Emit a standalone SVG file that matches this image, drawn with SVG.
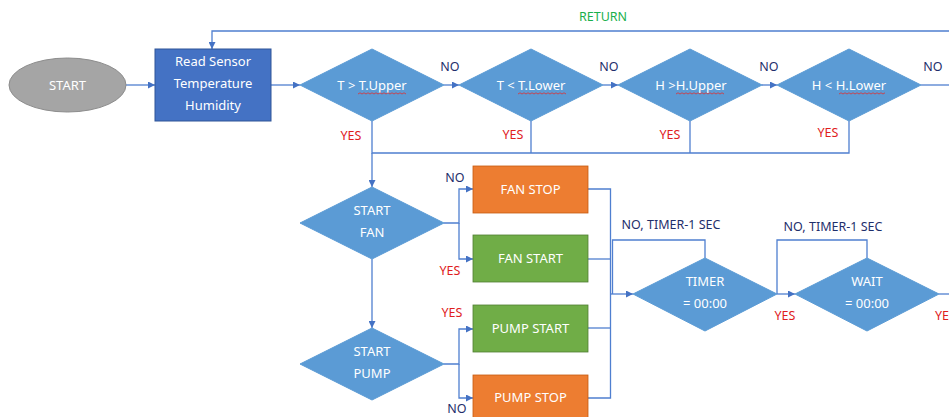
<svg xmlns="http://www.w3.org/2000/svg" width="949" height="417" viewBox="0 0 949 417">
<style>
text{font-family:"Noto Sans","Open Sans","Liberation Sans",sans-serif;font-size:13px;text-anchor:middle}
.w{fill:#ffffff}
.no{fill:#1f2f6b;font-size:12.5px}
.yes{fill:#e0201c;font-size:12.5px}
.ret{fill:#1ab04c;font-size:12.5px}
.dia{fill:#5b9bd5;stroke:#5b9bd5;stroke-width:1}
.ln{fill:none;stroke:#4f7fd0;stroke-width:1.3}
.sq{fill:none;stroke:#e03030;stroke-width:0.8}
.or{fill:#ed7d31;stroke:#c55a11;stroke-width:0.8}
.gr{fill:#70ad47;stroke:#507e32;stroke-width:0.8}
</style>
<defs>
<marker id="ah" viewBox="0 0 10 10" refX="10" refY="5" markerWidth="7" markerHeight="7" markerUnits="userSpaceOnUse" orient="auto">
<path d="M0,0 L10,5 L0,10 z" fill="#4472c4"/>
</marker>
</defs>

<g id="connectors">
<path class="ln" d="M126,85 H155" marker-end="url(#ah)"/>
<path class="ln" d="M271,85 H300" marker-end="url(#ah)"/>
<path class="ln" d="M444,85 H459" marker-end="url(#ah)"/>
<path class="ln" d="M603,85 H618" marker-end="url(#ah)"/>
<path class="ln" d="M762,85 H777" marker-end="url(#ah)"/>
<path class="ln" d="M921,85 H949"/>
<path class="ln" d="M949,31 H212 V49" marker-end="url(#ah)"/>
<path class="ln" d="M372,121 V153 H849 V121"/>
<path class="ln" d="M531,121 V153"/>
<path class="ln" d="M690,121 V153"/>
<path class="ln" d="M372,153 V187" marker-end="url(#ah)"/>
<path class="ln" d="M372,259 V328" marker-end="url(#ah)"/>
<path class="ln" d="M444,223 H459 V189 H473" marker-end="url(#ah)"/>
<path class="ln" d="M459,223 V259 H473" marker-end="url(#ah)"/>
<path class="ln" d="M444,364 H459 V329 H473" marker-end="url(#ah)"/>
<path class="ln" d="M459,364 V398 H473" marker-end="url(#ah)"/>
<path class="ln" d="M588,189 H610.5 V398 H588"/>
<path class="ln" d="M588,259 H610.5"/>
<path class="ln" d="M588,328 H610.5"/>
<path class="ln" d="M610.5,294 H633" marker-end="url(#ah)"/>
<path class="ln" d="M705,258 V240 H612.5 V294"/>
<path class="ln" d="M777,294 H795" marker-end="url(#ah)"/>
<path class="ln" d="M867,258 V240 H777 V294"/>
<path class="ln" d="M939,294 H949"/>
</g>

<g id="labels">
<text class="ret" x="603" y="21">RETURN</text>
<text class="no" x="450" y="71">NO</text>
<text class="no" x="609" y="71">NO</text>
<text class="no" x="769" y="71">NO</text>
<text class="no" x="933" y="71">NO</text>
<text class="yes" x="351" y="140">YES</text>
<text class="yes" x="513" y="139">YES</text>
<text class="yes" x="670" y="139">YES</text>
<text class="yes" x="828" y="137">YES</text>
<text class="no" x="455" y="182">NO</text>
<text class="yes" x="450" y="275">YES</text>
<text class="yes" x="452" y="317">YES</text>
<text class="no" x="457" y="413">NO</text>
<text class="no" x="671" y="229">NO, TIMER-1 SEC</text>
<text class="no" x="833" y="231">NO, TIMER-1 SEC</text>
<text class="yes" x="785" y="320">YES</text>
<text class="yes" x="935" y="320" style="text-anchor:start">YES</text>
</g>

<g id="start">
<ellipse cx="67.5" cy="85" rx="58.5" ry="27" fill="#a5a5a5" stroke="#8c8c8c" stroke-width="1"/>
<text class="w" x="67.5" y="89.5">START</text>
</g>

<g id="read-sensor">
<rect x="155" y="49" width="116" height="72" fill="#4472c4" stroke="#2f5597" stroke-width="1"/>
<text class="w" x="213" y="66">Read Sensor</text>
<text class="w" x="213" y="88">Temperature</text>
<text class="w" x="213" y="110">Humidity</text>
</g>

<g id="d-t-upper">
<polygon class="dia" points="300,85 372,49 444,85 372,121"/>
<text class="w" x="372" y="89.5">T &gt; T.Upper</text>
<path class="sq" d="M358,94 l2,-1.2 2,1.2 2,-1.2 2,1.2 2,-1.2 2,1.2 2,-1.2 2,1.2 2,-1.2 2,1.2 2,-1.2 2,1.2 2,-1.2 2,1.2 2,-1.2 2,1.2 2,-1.2 2,1.2 2,-1.2 2,1.2 2,-1.2 2,1.2 2,-1.2 2,1.2"/>
</g>

<g id="d-t-lower">
<polygon class="dia" points="459,85 531,49 603,85 531,121"/>
<text class="w" x="531" y="89.5">T &lt; T.Lower</text>
<path class="sq" d="M518,94 l2,-1.2 2,1.2 2,-1.2 2,1.2 2,-1.2 2,1.2 2,-1.2 2,1.2 2,-1.2 2,1.2 2,-1.2 2,1.2 2,-1.2 2,1.2 2,-1.2 2,1.2 2,-1.2 2,1.2 2,-1.2 2,1.2 2,-1.2 2,1.2 2,-1.2 2,1.2"/>
</g>

<g id="d-h-upper">
<polygon class="dia" points="618,85 690,49 762,85 690,121"/>
<text class="w" x="691" y="89.5">H &gt;H.Upper</text>
<path class="sq" d="M676,94 l2,-1.2 2,1.2 2,-1.2 2,1.2 2,-1.2 2,1.2 2,-1.2 2,1.2 2,-1.2 2,1.2 2,-1.2 2,1.2 2,-1.2 2,1.2 2,-1.2 2,1.2 2,-1.2 2,1.2 2,-1.2 2,1.2 2,-1.2 2,1.2 2,-1.2 2,1.2"/>
</g>

<g id="d-h-lower">
<polygon class="dia" points="777,85 849,49 921,85 849,121"/>
<text class="w" x="849" y="89.5">H &lt; H.Lower</text>
<path class="sq" d="M839,94 l2,-1.2 2,1.2 2,-1.2 2,1.2 2,-1.2 2,1.2 2,-1.2 2,1.2 2,-1.2 2,1.2 2,-1.2 2,1.2 2,-1.2 2,1.2 2,-1.2 2,1.2 2,-1.2 2,1.2 2,-1.2 2,1.2 2,-1.2 2,1.2 2,-1.2"/>
</g>

<g id="d-start-fan">
<polygon class="dia" points="300,223 372,187 444,223 372,259"/>
<text class="w" x="372" y="214.5">START</text>
<text class="w" x="372" y="236.5">FAN</text>
</g>

<g id="d-start-pump">
<polygon class="dia" points="300,364 372,328 444,364 372,400"/>
<text class="w" x="372" y="355.5">START</text>
<text class="w" x="372" y="377.5">PUMP</text>
</g>

<g id="fan-stop">
<rect class="or" x="473" y="166" width="115" height="47"/>
<text class="w" x="530.5" y="193.5">FAN STOP</text>
</g>

<g id="fan-start">
<rect class="gr" x="473" y="235" width="115" height="47"/>
<text class="w" x="530.5" y="262.5">FAN START</text>
</g>

<g id="pump-start">
<rect class="gr" x="473" y="305" width="115" height="47"/>
<text class="w" x="530.5" y="332.5">PUMP START</text>
</g>

<g id="pump-stop">
<rect class="or" x="473" y="375" width="115" height="47"/>
<text class="w" x="530.5" y="401.5">PUMP STOP</text>
</g>

<g id="d-timer">
<polygon class="dia" points="633,294 705,258 777,294 705,331"/>
<text class="w" x="705" y="286">TIMER</text>
<text class="w" x="705" y="308">= 00:00</text>
</g>

<g id="d-wait">
<polygon class="dia" points="795,294 867,258 939,294 867,331"/>
<text class="w" x="867" y="286">WAIT</text>
<text class="w" x="867" y="308">= 00:00</text>
</g>
</svg>
